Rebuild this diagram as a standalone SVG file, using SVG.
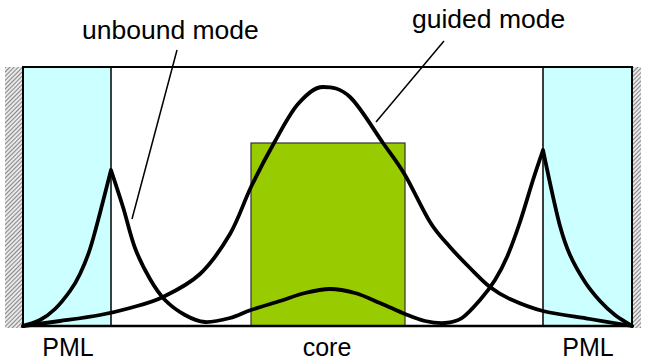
<svg xmlns="http://www.w3.org/2000/svg" width="645" height="362" viewBox="0 0 645 362">
<defs>
<pattern id="hatch" patternUnits="userSpaceOnUse" width="3" height="3" patternTransform="rotate(45)">
<rect width="3" height="3" fill="#e8e8e8"/>
<line x1="0" y1="0" x2="0" y2="3" stroke="#666" stroke-width="1.5"/>
</pattern>
<style>
.lbl{font-family:"Liberation Sans",Arial,sans-serif;font-size:26.5px;fill:#000}
.bot{font-size:25px}
.mode{fill:none;stroke:#000;stroke-width:3.8;stroke-linejoin:round;stroke-linecap:round}
.ptr{fill:none;stroke:#000;stroke-width:1.5}
</style>
</defs>
<rect width="645" height="362" fill="#fff"/>
<g id="walls">
<rect x="5" y="67" width="18" height="261" fill="url(#hatch)"/>
<rect x="632" y="67" width="9" height="261" fill="url(#hatch)"/>
</g>
<g id="pml-left"><rect x="23" y="67" width="88" height="259" fill="#ccffff" stroke="#000" stroke-width="1.5"/></g>
<g id="pml-right"><rect x="543" y="67" width="89" height="259" fill="#ccffff" stroke="#000" stroke-width="1.5"/></g>
<g id="core"><rect x="251" y="143" width="154" height="183" fill="#99cc00" stroke="#333" stroke-width="1.2"/></g>
<g id="box"><rect x="23" y="67" width="609" height="259" fill="none" stroke="#000" stroke-width="2"/>
<line x1="23" y1="326" x2="632" y2="326" stroke="#000" stroke-width="2.5"/></g>
<g id="connectors">
<path id="guided-mode" class="mode" d="M23,326 C29.2,325.2 47.2,322.8 60,321 C72.8,319.2 88.3,317.2 100,315 C111.7,312.8 119.5,311 130,308 C140.5,305 151.3,302.7 163,297 C174.7,291.3 188.8,284.5 200,274 C211.2,263.5 221.5,248.5 230,234 C238.5,219.5 243.7,202.2 251,187 C258.3,171.8 266.2,156.8 274,143 C281.8,129.2 289.8,113.3 298,104 C306.2,94.7 314.3,87 323,87 C331.7,87 340,87.7 350,97 C360,106.3 373.8,130 383,143 C392.2,156 397.2,161.8 405,175 C412.8,188.2 422.5,210 430,222 C437.5,234 443.3,239.3 450,247 C456.7,254.7 463.3,261.3 470,268 C476.7,274.7 483.3,281.8 490,287 C496.7,292.2 501.2,295 510,299 C518.8,303 529.7,307.7 543,311 C556.3,314.3 575.2,316.5 590,319 C604.8,321.5 625,324.8 632,326"/>
<path id="unbound-mode" class="mode" d="M23,326 C25.8,325 34.7,322.8 40,320 C45.3,317.2 50,313.8 55,309 C60,304.2 65.8,296.8 70,291 C74.2,285.2 76.7,281 80,274 C83.3,267 86.7,259.2 90,249 C93.3,238.8 96.5,226.2 100,213 C103.5,199.8 107.3,184.3 111,170 C115,182.3 119,194 123,207 C127,220 130.5,236 135,248 C139.5,260 145,270.3 150,279 C155,287.7 159.2,294 165,300 C170.8,306 178.3,311.3 185,315 C191.7,318.7 197.5,321.5 205,322 C212.5,322.5 222.3,320 230,318 C237.7,316 242.7,312.8 251,310 C259.3,307.2 271,303.8 280,301 C289,298.2 296.7,295 305,293 C313.3,291 321.7,289 330,289 C338.3,289 346.7,290.7 355,293 C363.3,295.3 371.7,299.5 380,303 C388.3,306.5 397.5,311 405,314 C412.5,317 418.3,319.5 425,321 C431.7,322.5 438.8,323.5 445,323 C451.2,322.5 456.2,321.8 462,318 C467.8,314.2 474.5,306.3 480,300 C485.5,293.7 490.5,287.2 495,280 C499.5,272.8 502.8,266.7 507,257 C511.2,247.3 515.7,234.8 520,222 C524.3,209.2 529.2,192 533,180 C536.8,168 539.7,160 543,150 C545.3,161 547.2,170.3 550,183 C552.8,195.7 556.7,214 560,226 C563.3,238 565.8,245.7 570,255 C574.2,264.3 580,274.3 585,282 C590,289.7 595,295.5 600,301 C605,306.5 609.7,310.8 615,315 C620.3,319.2 626.3,322.3 632,326"/>
<line class="ptr" x1="177" y1="50" x2="132" y2="219"/>
<line class="ptr" x1="444" y1="41" x2="376" y2="122"/>
</g>
<g id="labels">
<text class="lbl" x="82" y="39">unbound mode</text>
<text class="lbl" x="412" y="28">guided mode</text>
<text class="lbl bot" x="68" y="356" text-anchor="middle">PML</text>
<text class="lbl bot" x="327" y="356" text-anchor="middle">core</text>
<text class="lbl bot" x="588" y="356" text-anchor="middle">PML</text>
</g>
</svg>
